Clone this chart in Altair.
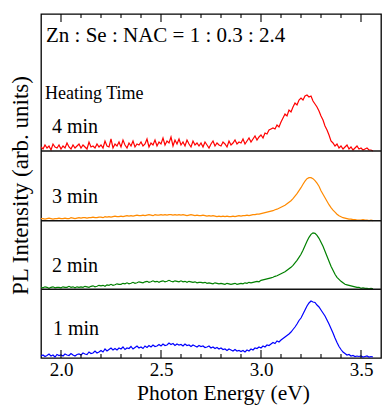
import altair as alt
import pandas as pd

# ---------------- data ----------------
energy = [
    1.90, 1.91, 1.92, 1.93, 1.94, 1.95, 1.96, 1.97, 1.98, 1.99,
    2.00, 2.01, 2.02, 2.03, 2.04, 2.05, 2.06, 2.07, 2.08, 2.09,
    2.10, 2.11, 2.12, 2.13, 2.14, 2.15, 2.16, 2.17, 2.18, 2.19,
    2.20, 2.21, 2.22, 2.23, 2.24, 2.25, 2.26, 2.27, 2.28, 2.29,
    2.30, 2.31, 2.32, 2.33, 2.34, 2.35, 2.36, 2.37, 2.38, 2.39,
    2.40, 2.41, 2.42, 2.43, 2.44, 2.45, 2.46, 2.47, 2.48, 2.49,
    2.50, 2.51, 2.52, 2.53, 2.54, 2.55, 2.56, 2.57, 2.58, 2.59,
    2.60, 2.61, 2.62, 2.63, 2.64, 2.65, 2.66, 2.67, 2.68, 2.69,
    2.70, 2.71, 2.72, 2.73, 2.74, 2.75, 2.76, 2.77, 2.78, 2.79,
    2.80, 2.81, 2.82, 2.83, 2.84, 2.85, 2.86, 2.87, 2.88, 2.89,
    2.90, 2.91, 2.92, 2.93, 2.94, 2.95, 2.96, 2.97, 2.98, 2.99,
    3.00, 3.01, 3.02, 3.03, 3.04, 3.05, 3.06, 3.07, 3.08, 3.09,
    3.10, 3.11, 3.12, 3.13, 3.14, 3.15, 3.16, 3.17, 3.18, 3.19,
    3.20, 3.21, 3.22, 3.23, 3.24, 3.25, 3.26, 3.27, 3.28, 3.29,
    3.30, 3.31, 3.32, 3.33, 3.34, 3.35, 3.36, 3.37, 3.38, 3.39,
    3.40, 3.41, 3.42, 3.43, 3.44, 3.45, 3.46, 3.47, 3.48, 3.49,
    3.50, 3.51, 3.52, 3.53, 3.54, 3.55, 3.56,
]

pl_4min = [
    4, 2, 6, 3, 5, 1, 7, 4, 3, 6,
    2, 5, 3, 8, 4, 2, 6, 3, 5, 7,
    3, 6, 4, 2, 9, 4, 5, 3, 7, 4,
    6, 3, 10, 5, 4, 12, 3, 7, 5, 9,
    4, 11, 6, 3, 8, 5, 10, 4, 7, 6,
    9, 5, 7, 12, 4, 8, 6, 11, 5, 9,
    7, 13, 6, 10, 8, 14, 5, 11, 7, 12,
    6, 9, 5, 11, 7, 4, 10, 6, 8, 5,
    8, 4, 9, 6, 3, 7, 10, 5, 8, 6,
    5, 9, 7, 4, 10, 6, 8, 11, 7, 9,
    8, 12, 7, 10, 13, 9, 12, 15, 11, 14,
    16, 13, 18, 17, 21, 22, 23, 22, 26, 24,
    29, 33, 37, 35, 41, 39, 44, 48, 46, 51,
    53, 51, 55, 56, 54, 55, 50, 47, 44, 40,
    35, 31, 25, 21, 16, 10, 8, 5, 7, 3,
    5, 2, 4, 6, 2, 4, 1, 3, 5, 2,
    3, 1, 2, 3, 1, 1, 0,
]

pl_3min = [
    2, 2, 1.5, 2, 2.5, 2, 1.5, 2, 2, 2.5,
    2, 2, 2.5, 2, 2, 3, 2.5, 2, 2.5, 3,
    2.5, 3, 3, 2.5, 3, 3, 3.5, 3, 3, 3.5,
    3.5, 3, 4, 3.5, 4, 3.5, 4, 4.5, 4, 4,
    4.5, 4, 4.5, 5, 4.5, 5, 4.5, 5, 5.5, 5,
    5, 5.5, 5, 5.5, 6, 5.5, 5, 6, 5.5, 5.5,
    6, 5.5, 6, 5.5, 6, 6, 5.5, 6, 5.5, 6,
    5.5, 6, 5.5, 5, 5.5, 6, 5.5, 5, 5.5, 5,
    5, 5.5, 5, 4.5, 5, 4.5, 5, 4.5, 4, 4.5,
    4, 4.5, 4, 4.5, 4, 4, 4.5, 4, 4.5, 5,
    4.5, 5, 5, 5.5, 5, 5.5, 6, 6, 6.5, 6.5,
    7, 7.5, 8, 8.5, 9, 9.5, 10, 11, 11.5, 12.5,
    13.5, 14.5, 15.5, 17, 18.5, 20, 22, 24.5, 27, 30,
    33, 36.5, 39.5, 42, 43, 43, 42, 40, 37.5, 34.5,
    30, 26.5, 23, 19.5, 16, 13, 10.5, 8.5, 6.5, 5,
    4, 3, 2.5, 2, 1.5, 1.5, 1, 1, 0.5, 0.5,
    0.5, 1, 0.5, 0.5, 0, 0.5, 0,
]

pl_2min = [
    2, 1.5, 2.5, 2, 1, 2, 2.5, 1.5, 2, 2,
    1.5, 2.5, 2, 2, 3, 2, 2.5, 1.5, 2.5, 2,
    2.5, 2, 3, 2.5, 2, 3, 3.5, 2.5, 3, 4,
    3.5, 4, 3, 4.5, 4, 5, 4, 4.5, 5.5, 5,
    5, 6, 5.5, 6.5, 5.5, 6, 7, 6, 6.5, 7.5,
    7, 6.5, 7.5, 8, 7, 7.5, 8.5, 7.5, 8, 7,
    8, 8.5, 7.5, 8, 9, 8, 7.5, 8.5, 8, 7.5,
    8.5, 7.5, 8, 7, 8, 7.5, 7, 7.5, 6.5, 7,
    7, 6.5, 7, 6, 6.5, 6, 5.5, 6.5, 6, 5.5,
    6, 5.5, 5, 6, 5.5, 5, 5.5, 6, 5, 5.5,
    6, 5.5, 6.5, 6, 7, 6.5, 7, 7.5, 8, 7.5,
    9, 9.5, 10, 10.5, 11, 11.5, 12, 13, 13.5, 14.5,
    15.5, 16.5, 17.5, 19, 20.5, 22, 24, 26.5, 29, 32,
    35, 39, 43.5, 48, 52, 55, 56.5, 56, 54, 51,
    47, 43, 38, 33, 28, 23, 19, 15, 12, 10,
    8, 6.5, 5, 4.5, 4, 3.5, 3, 2.5, 2, 2,
    1, 1.5, 1, 1, 0.5, 1, 0.5,
]

pl_1min = [
    2, 3, 1.5, 2.5, 4, 2, 3, 1, 3.5, 2.5,
    3, 2, 4, 3, 2.5, 4.5, 3, 2, 3.5, 4,
    3, 5, 4, 3.5, 6, 4.5, 5, 7, 5, 6,
    7.5, 6, 9, 7, 8.5, 10, 8, 9.5, 8, 10,
    9, 11, 8.5, 10, 9.5, 11.5, 9, 10.5, 12, 10,
    11, 9.5, 12, 10.5, 12.5, 11, 13, 11.5, 12, 13.5,
    12, 14, 12.5, 13, 15, 13.5, 14.5, 12.5, 14, 13,
    13.5, 12, 14, 12.5, 13, 11.5, 13, 12, 11, 12.5,
    11.5, 12, 10.5, 11, 12, 10, 11, 9.5, 10.5, 9,
    10, 8.5, 9, 7.5, 9, 8, 7, 8.5, 7, 7.5,
    6.5, 7.5, 6, 8, 7, 9, 8, 10, 9.5, 11,
    10, 12, 11, 13, 12.5, 14, 15.5, 14.5, 17, 16,
    18, 19.5, 21, 22.5, 24, 26, 28.5, 31, 34, 37.5,
    40, 44, 48, 52, 55, 57, 56, 55.5, 53, 51,
    48, 45, 42, 38, 34, 29.5, 25, 20, 15.5, 11.5,
    8.5, 6, 4.5, 3, 3.5, 2, 2.5, 1.5, 2, 1.5,
    2, 1, 1.5, 2, 1, 1.5, 1,
]

series_names = ["1 min", "2 min", "3 min", "4 min"]
major_ticks = [2.0, 2.5, 3.0, 3.5]
minor_ticks = [2.1, 2.2, 2.3, 2.4, 2.6, 2.7, 2.8, 2.9, 3.1, 3.2, 3.3, 3.4]
x_title = "Photon Energy (eV)"
y_title = "PL Intensity (arb. units)"
ratio_text = "Zn : Se : NAC = 1 : 0.3 : 2.4"
heating_text = "Heating Time"

# ---------------- layout / style ----------------
W, H = 340, 344
Y_TOP = 344.0
K = H / Y_TOP
offsets = {"1 min": 0.0, "2 min": 68.7, "3 min": 137.3, "4 min": 207.0}
colors = {"1 min": "#0000ff", "2 min": "#008000", "3 min": "#ff8a00", "4 min": "#ff0000"}
FONT = "'Liberation Serif', 'Times New Roman', Times, serif"

series_values = {"1 min": pl_1min, "2 min": pl_2min, "3 min": pl_3min, "4 min": pl_4min}
rows = []
for name in series_names:
    for e, v in zip(energy, series_values[name]):
        rows.append({"energy": e, "value": v + offsets[name], "series": name})
df = pd.DataFrame(rows)

xscale = alt.Scale(domain=[1.9, 3.6], nice=False, zero=False)
yscale = alt.Scale(domain=[0, Y_TOP], nice=False, zero=False)

x_axis = alt.Axis(values=major_ticks, format=".1f", ticks=False, domain=False,
                  grid=False, labelFont=FONT, labelFontSize=19, labelPadding=2,
                  labelColor="black", title=x_title, titleFont=FONT,
                  titleFontSize=21.5, titleFontWeight="normal", titleColor="black",
                  titleX=182, titleY=41.5, titleBaseline="alphabetic",
                  titleAlign="center")
y_axis = alt.Axis(labels=False, ticks=False, domain=False, grid=False,
                  title=y_title, titleFont=FONT, titleFontSize=23,
                  titleFontWeight="normal", titleColor="black",
                  titleAngle=270, titleX=-21, titleY=H / 2 - 1,
                  titleBaseline="middle", titleAlign="center")

lines = alt.Chart(df).mark_line(strokeWidth=1.2, clip=True).encode(
    x=alt.X("energy:Q", scale=xscale, axis=x_axis),
    y=alt.Y("value:Q", scale=yscale, axis=y_axis),
    color=alt.Color("series:N", scale=alt.Scale(domain=series_names,
                                                range=[colors[n] for n in series_names]),
                    legend=None),
    detail="series:N",
)

sep_df = pd.DataFrame({"value": [offsets["2 min"], offsets["3 min"], offsets["4 min"]]})
separators = alt.Chart(sep_df).mark_rule(color="#111", strokeWidth=1.6).encode(
    y=alt.Y("value:Q", scale=yscale, axis=y_axis),
    x=alt.value(0), x2=alt.value(W),
)

maj_df = pd.DataFrame({"energy": major_ticks})
min_df = pd.DataFrame({"energy": minor_ticks})


def tick_layer(data, y0, y1):
    return alt.Chart(data).mark_rule(color="black", strokeWidth=1.1).encode(
        x=alt.X("energy:Q", scale=xscale, axis=x_axis),
        y=alt.value(y0), y2=alt.value(y1),
    )


ticks = [
    tick_layer(maj_df, H, H - 8), tick_layer(maj_df, 0, 8),
    tick_layer(min_df, H, H - 4), tick_layer(min_df, 0, 4),
]


def text_layer(txt, px, py, size):
    return alt.Chart(pd.DataFrame({"t": [txt]})).mark_text(
        align="left", baseline="alphabetic", font=FONT, fontSize=size, color="black"
    ).encode(text="t:N", x=alt.value(px), y=alt.value(py * K))


texts = [
    text_layer(ratio_text, 5, 27.7, 21),
    text_layer(heating_text, 4, 85, 18),
    text_layer(series_names[3], 11, 119, 20),
    text_layer(series_names[2], 11, 189, 20),
    text_layer(series_names[1], 11, 258, 20),
    text_layer(series_names[0], 12, 321, 20),
]

chart = alt.layer(lines, separators, *ticks, *texts).properties(
    width=W, height=H,
    autosize=alt.AutoSizeParams(type="none"),
    padding={"left": 33, "top": 6, "right": 1, "bottom": 48},
).configure_view(stroke="black", strokeWidth=1.3)

chart.save("out.html", embed_options={"renderer": "svg", "actions": False})
